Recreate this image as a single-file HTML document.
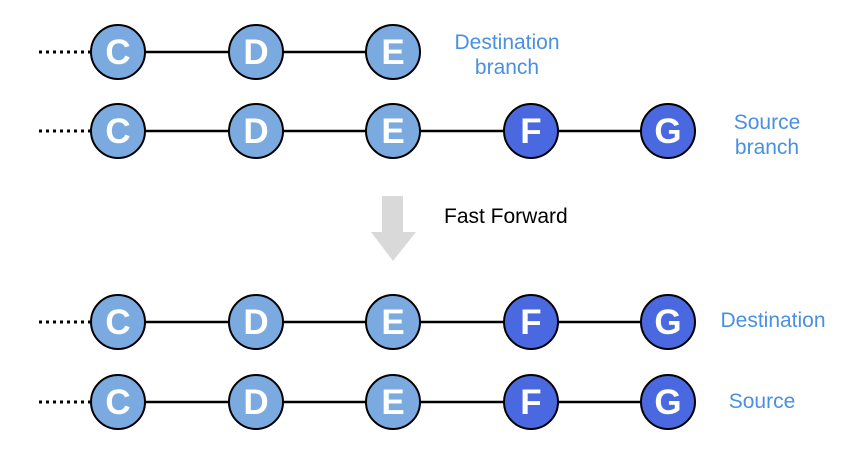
<!DOCTYPE html>
<html><head><style>body{margin:0;background:#fff} .L{font-family:"Liberation Sans",sans-serif;font-weight:bold;font-size:35px;fill:#fff;text-anchor:middle}</style></head><body>
<svg width="865" height="458" xmlns="http://www.w3.org/2000/svg" style="font-family:'Liberation Sans',sans-serif">
<defs>
<g id="lc"><circle r="27" fill="#7aaae0" stroke="#000" stroke-width="2"/></g>
<g id="dc"><circle r="27" fill="#4a68e0" stroke="#000" stroke-width="2"/></g>
</defs>
<g stroke="#000" stroke-width="2.5">
<line x1="118" y1="52" x2="393" y2="52"/>
<line x1="118" y1="131" x2="668" y2="131"/>
<line x1="118" y1="322" x2="668" y2="322"/>
<line x1="118" y1="402" x2="668" y2="402"/>
</g>
<g stroke="#000" stroke-width="3" stroke-dasharray="3,4">
<line x1="39" y1="52" x2="90" y2="52"/>
<line x1="39" y1="131" x2="90" y2="131"/>
<line x1="39" y1="322" x2="90" y2="322"/>
<line x1="39" y1="402" x2="90" y2="402"/>
</g>
<use href="#lc" x="118" y="52"/><use href="#lc" x="256" y="52"/><use href="#lc" x="393" y="52"/>
<use href="#lc" x="118" y="131"/><use href="#lc" x="256" y="131"/><use href="#lc" x="393" y="131"/><use href="#dc" x="531" y="131"/><use href="#dc" x="668" y="131"/>
<use href="#lc" x="118" y="322"/><use href="#lc" x="256" y="322"/><use href="#lc" x="393" y="322"/><use href="#dc" x="531" y="322"/><use href="#dc" x="668" y="322"/>
<use href="#lc" x="118" y="402"/><use href="#lc" x="256" y="402"/><use href="#lc" x="393" y="402"/><use href="#dc" x="531" y="402"/><use href="#dc" x="668" y="402"/>
<text class="L" x="118" y="64">C</text><text class="L" x="256" y="64">D</text><text class="L" x="393" y="64">E</text>
<text class="L" x="118" y="143">C</text><text class="L" x="256" y="143">D</text><text class="L" x="393" y="143">E</text><text class="L" x="531" y="143">F</text><text class="L" x="668" y="143">G</text>
<text class="L" x="118" y="334">C</text><text class="L" x="256" y="334">D</text><text class="L" x="393" y="334">E</text><text class="L" x="531" y="334">F</text><text class="L" x="668" y="334">G</text>
<text class="L" x="118" y="414">C</text><text class="L" x="256" y="414">D</text><text class="L" x="393" y="414">E</text><text class="L" x="531" y="414">F</text><text class="L" x="668" y="414">G</text>
<polygon points="382,196 403,196 403,232 416,232 393,261 371,232 382,232" fill="#d9d9d9"/>
<text x="444" y="223" font-size="21" fill="#000">Fast Forward</text>
<g font-size="21" fill="#4a90e2" text-anchor="middle">
<text x="507" y="49">Destination</text>
<text x="507" y="74">branch</text>
<text x="767" y="129">Source</text>
<text x="767" y="154">branch</text>
<text x="773" y="327">Destination</text>
<text x="762" y="408">Source</text>
</g>
</svg>
</body></html>
